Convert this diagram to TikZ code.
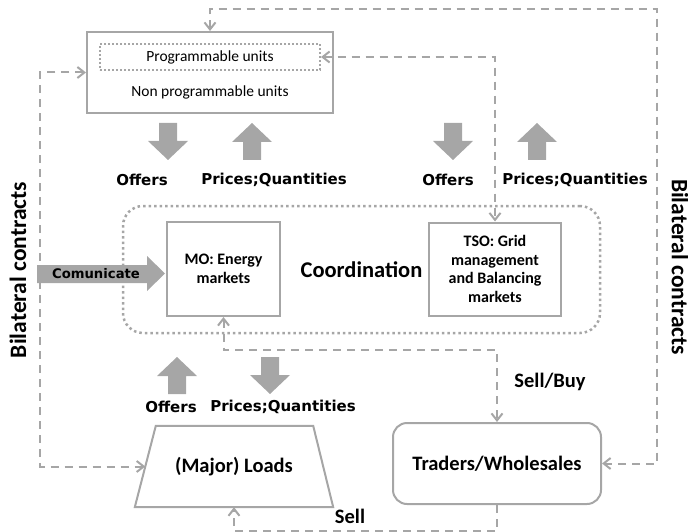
\documentclass[tikz,border=0pt]{standalone}
\usepackage{fontspec}
\setmainfont{Carlito}
\newfontfamily\verdfont{DejaVu Sans}
\usetikzlibrary{arrows.meta}
\definecolor{boxgray}{RGB}{166,166,166}

\begin{document}
\begin{tikzpicture}[x=1pt,y=-1pt,>={Straight Barb[length=7pt,width=11pt]},
  unit/.style={draw=boxgray,line width=2pt,inner sep=0pt},
  dotbox/.style={draw=boxgray,line width=2pt,dash pattern=on 2pt off 2pt,inner sep=0pt},
  conn/.style={draw=boxgray,line width=2pt,dash pattern=on 8pt off 6pt},
  blk/.style={fill=boxgray},
  flowlbl/.style={font=\verdfont\bfseries\fontsize{15}{18}\selectfont},
  biglbl/.style={font=\bfseries\fontsize{20.5}{24}\selectfont},
  boxlbl/.style={font=\bfseries\fontsize{16}{18.5}\selectfont,align=center}]
  \useasboundingbox (0,0) rectangle (688,532);
  \node[unit,minimum width=246,minimum height=81] (gen) at (210,72.5) {};
  \node[dotbox,minimum width=220,minimum height=26,font=\fontsize{15.5}{18}\selectfont] (prog) at (210,57) {Programmable units};
  \node[font=\fontsize{15.5}{18}\selectfont] (nonprog) at (210,92) {Non programmable units};
  \node[draw=boxgray,line width=2.5pt,dash pattern=on 2.5pt off 3pt,rounded corners=20pt,minimum width=477,minimum height=127,font=\bfseries\fontsize{22.5}{26}\selectfont] (coord) at (361.5,269.5) {Coordination};
  \node[unit,boxlbl,minimum width=113,minimum height=94] (mo) at (223.5,269) {MO: Energy\\markets};
  \node[unit,boxlbl,minimum width=132,minimum height=93] (tso) at (495,269) {TSO: Grid\\management\\and Balancing\\markets};
  \node[biglbl,inner sep=0pt,minimum width=198,minimum height=81] (loads) at (234,466.5) {(Major) Loads};
  \draw[boxgray,line width=2pt] ([xshift=21pt]loads.north west) -- ([xshift=-20pt]loads.north east) -- (loads.south east) -- (loads.south west) -- cycle;
  \node[unit,biglbl,rounded corners=14pt,minimum width=208,minimum height=81] (trade) at (497,463.5) {Traders/Wholesales};

  \fill[blk] (37,265) -- (147,265) -- (147,256) -- (165,273.5) -- (147,291) -- (147,283) -- (37,283) -- cycle;
  \node[font=\verdfont\bfseries\fontsize{13.2}{16}\selectfont] (comm) at (96,274) {Comunicate};

  \fill[blk] (159,123) -- ++(18,0) -- ++(0,18) -- ++(11,0) -- ++(-20,19) -- ++(-20,-19) -- ++(11,0) -- cycle;
  \fill[blk] (243,160) -- ++(18,0) -- ++(0,-18) -- ++(11,0) -- ++(-20,-19) -- ++(-20,19) -- ++(11,0) -- cycle;
  \fill[blk] (444,123) -- ++(18,0) -- ++(0,18) -- ++(11,0) -- ++(-20,19) -- ++(-20,-19) -- ++(11,0) -- cycle;
  \fill[blk] (528,160) -- ++(18,0) -- ++(0,-18) -- ++(11,0) -- ++(-20,-19) -- ++(-20,19) -- ++(11,0) -- cycle;
  \fill[blk] (168,394) -- ++(18,0) -- ++(0,-18) -- ++(11,0) -- ++(-20,-19) -- ++(-20,19) -- ++(11,0) -- cycle;
  \fill[blk] (261,357) -- ++(18,0) -- ++(0,18) -- ++(11,0) -- ++(-20,19) -- ++(-20,-19) -- ++(11,0) -- cycle;

  \node[flowlbl] (offtop) at (142,180) {Offers};
  \node[flowlbl] (pqtop) at (274,180) {Prices;Quantities};
  \node[flowlbl] (offtso) at (448,180) {Offers};
  \node[flowlbl] (pqtso) at (575,180) {Prices;Quantities};
  \node[flowlbl] (offload) at (171,407) {Offers};
  \node[flowlbl] (pqload) at (283,407) {Prices;Quantities};

  \coordinate (topright) at (657,9);
  \coordinate (leftx) at (40,0);
  \coordinate (midy) at (0,350);
  \coordinate (bottomy) at (0,531);
  \draw[conn,<->] (gen.north) |- (topright) |- (trade.east);
  \draw[conn,<->] (prog.east) -| (tso.north);
  \draw[conn,<->] (gen.west) -- (gen.west -| leftx) |- ([xshift=10.5pt]loads.west);
  \draw[conn,<->] (mo.south) -- (mo.south |- midy) -| (trade.north);
  \draw[conn,->] (trade.south) -- (trade.south |- bottomy) -| (loads.south);

  \node[biglbl] (sellbuy) at (550,382) {Sell/Buy};
  \node[biglbl] (sell) at (350,516) {Sell};
  \node[font=\bfseries\fontsize{23.5}{27}\selectfont,rotate=90] (billeft) at (18,270) {Bilateral contracts};
  \node[font=\bfseries\fontsize{23.5}{27}\selectfont,rotate=-90] (bilright) at (680,267) {Bilateral contracts};
\end{tikzpicture}
\end{document}
